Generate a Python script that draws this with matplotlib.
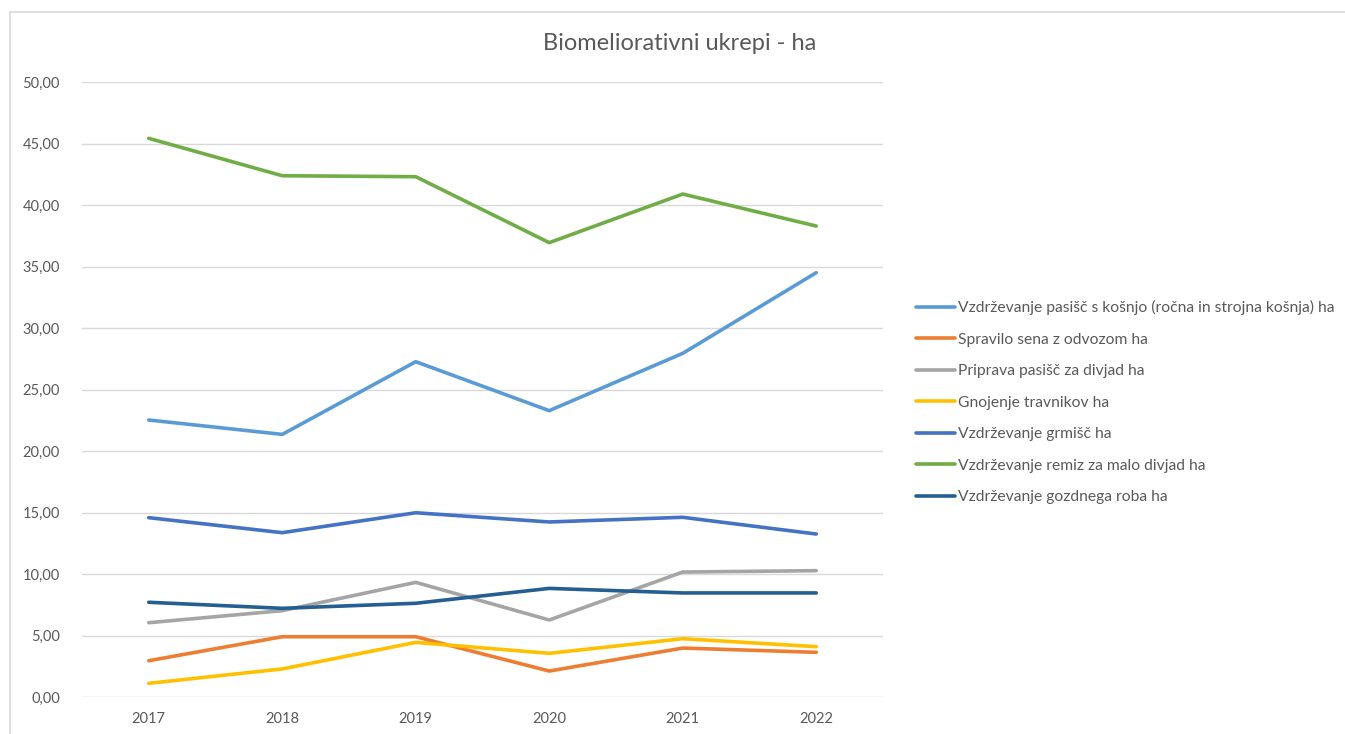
import matplotlib.pyplot as plt
from matplotlib.patches import Rectangle
from matplotlib.ticker import FuncFormatter

plt.rcParams['font.family'] = ['Lato', 'DejaVu Sans']

years = ["2017", "2018", "2019", "2020", "2021", "2022"]

pasisca_kosnja = [22.52, 21.35, 27.26, 23.28, 27.94, 34.50]
spravilo_sena = [2.95, 4.90, 4.90, 2.11, 3.98, 3.63]
priprava_pasisc = [6.04, 7.02, 9.32, 6.26, 10.16, 10.27]
gnojenje = [1.11, 2.28, 4.44, 3.55, 4.74, 4.09]
grmisca = [14.58, 13.36, 14.98, 14.23, 14.61, 13.25]
remize = [45.42, 42.38, 42.30, 36.94, 40.89, 38.29]
gozdni_rob = [7.70, 7.21, 7.62, 8.83, 8.46, 8.46]

series = [
    ("Vzdrževanje pasišč s košnjo (ročna in strojna košnja) ha", pasisca_kosnja, "#5B9BD5"),
    ("Spravilo sena z odvozom ha", spravilo_sena, "#ED7D31"),
    ("Priprava pasišč za divjad ha", priprava_pasisc, "#A5A5A5"),
    ("Gnojenje travnikov ha", gnojenje, "#FFC000"),
    ("Vzdrževanje grmišč ha", grmisca, "#4472C4"),
    ("Vzdrževanje remiz za malo divjad ha", remize, "#70AD47"),
    ("Vzdrževanje gozdnega roba ha", gozdni_rob, "#255E91"),
]

fig = plt.figure(figsize=(13.45, 7.34), dpi=100)
fig.patches.append(Rectangle((10 / 1345, -0.1), 1.2, 1 - 12 / 734 + 0.1,
                             transform=fig.transFigure, fill=False,
                             edgecolor="#D9D9D9", linewidth=1.2))

ax = fig.add_axes([82 / 1345, 1 - 697 / 734, (883 - 82) / 1345, (697 - 82) / 734])

x = list(range(len(years)))
for name, vals, col in series:
    ax.plot(x, vals, color=col, linewidth=2.6, label=name, solid_capstyle="round")

ax.set_xlim(-0.5, 5.5)
ax.set_ylim(0, 50)
ax.set_yticks(range(0, 51, 5))
ax.yaxis.set_major_formatter(FuncFormatter(lambda v, p: f"{v:.2f}".replace(".", ",")))
ax.set_xticks(x)
ax.set_xticklabels(years)
ax.grid(axis="y", color="#D9D9D9", linewidth=1)
ax.set_axisbelow(True)
for s in ax.spines.values():
    s.set_visible(False)
ax.tick_params(length=0, colors="#595959", labelsize=10.5, pad=11)
ax.tick_params(axis="y", pad=16)

fig.text(680 / 1345, 1 - 44 / 734, "Biomeliorativni ukrepi - ha", ha="center", va="center",
         fontsize=17, color="#595959")

fig.legend(loc="upper left", bbox_to_anchor=(910 / 1345, 1 - 294 / 734), frameon=False,
           fontsize=11.25, labelcolor="#595959", handlelength=2.5, handletextpad=0.2,
           labelspacing=1.12, borderaxespad=0)

fig.savefig("out.png", dpi=100)
